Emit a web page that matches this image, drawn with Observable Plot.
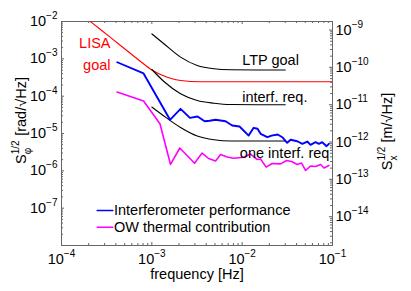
<!DOCTYPE html>
<html><head><meta charset="utf-8">
<script src="https://cdn.jsdelivr.net/npm/d3@7"></script>
<script src="https://cdn.jsdelivr.net/npm/@observablehq/plot@0.6"></script>
<style>
html,body{margin:0;padding:0;background:#fff;}
</style></head><body><div id="chart"></div>
<script>
// ---- data ----
const lisaF = [2.09e-4, 2.7e-4, 4.5e-4, 7.5e-4, 1.0e-3, 1.48e-3, 2.08e-3, 3.46e-3, 6e-3, 1e-2, 3e-2, 1e-1];
const lisaS = [1.0e-2, 6.1e-3, 2.28e-3, 8.5e-4, 5.02e-4, 3.22e-4, 2.63e-4, 2.43e-4, 2.43e-4, 2.43e-4, 2.43e-4, 2.43e-4];
const ltpF = [1.0e-3, 1.36e-3, 2.08e-3, 3.18e-3, 4.87e-3, 7.45e-3, 1.5e-2, 3.0e-2];
const ltpS = [4.68e-3, 2.53e-3, 1.11e-3, 6.63e-4, 5.41e-4, 5.08e-4, 5.02e-4, 5.02e-4];
const irF = [1.0e-3, 1.36e-3, 2.08e-3, 3.18e-3, 4.87e-3, 7.45e-3, 1.5e-2, 3.0e-2];
const irS = [5.18e-4, 2.47e-4, 1.16e-4, 7.65e-5, 6.48e-5, 5.98e-5, 5.9e-5, 5.9e-5];
const oneF = [1.0e-3, 1.36e-3, 2.08e-3, 3.18e-3, 4.87e-3, 7.45e-3, 1.5e-2, 3.0e-2];
const oneS = [5.13e-5, 2.94e-5, 1.45e-5, 8.57e-6, 6.78e-6, 6.3e-6, 6.3e-6, 6.3e-6];
const ifoF = [4.14e-4, 8.1e-4, 1.59e-3, 2.08e-3, 2.64e-3, 3.21e-3, 3.84e-3, 4.36e-3, 5.07e-3, 6.55e-3, 7.76e-3, 9.35e-3, 1.18e-2, 1.34e-2, 1.48e-2, 1.60e-2, 1.90e-2, 2.12e-2, 2.47e-2, 2.78e-2, 3.15e-2, 3.44e-2, 4.07e-2, 4.64e-2, 5.26e-2, 5.71e-2, 6.5e-2, 7.06e-2, 7.7e-2, 8.6e-2, 9.12e-2];
const ifoS = [8.1e-4, 4.05e-4, 2.33e-5, 4.58e-5, 2.63e-5, 2.85e-5, 2.13e-5, 2.2e-5, 2.33e-5, 2.13e-5, 1.64e-5, 1.54e-5, 8.8e-6, 1.42e-5, 1.34e-5, 9.8e-6, 7.96e-6, 8.8e-6, 9.4e-6, 7.96e-6, 5.63e-6, 6.78e-6, 6.21e-6, 5.3e-6, 6.1e-6, 4.98e-6, 5.85e-6, 5.3e-6, 5.85e-6, 4.57e-6, 5.3e-6];
const owF = [4.12e-4, 8.1e-4, 1.23e-3, 1.61e-3, 2.04e-3, 2.97e-3, 3.6e-3, 4.25e-3, 5.07e-3, 5.77e-3, 6.84e-3, 8.04e-3, 1.04e-2, 1.24e-2, 1.47e-2, 1.60e-2, 1.84e-2, 2.15e-2, 2.66e-2, 3.1e-2, 3.52e-2, 4.07e-2, 4.55e-2, 5.04e-2, 5.71e-2, 6.5e-2, 7.38e-2, 8.07e-2, 9.12e-2];
const owS = [1.29e-4, 7.42e-5, 1.82e-5, 1.48e-6, 4.09e-6, 1.60e-6, 3.0e-6, 2.14e-6, 1.83e-6, 2.74e-6, 2.35e-6, 2.18e-6, 2.32e-6, 2.82e-6, 2.01e-6, 2.07e-6, 1.26e-6, 1.57e-6, 1.54e-6, 1.89e-6, 1.78e-6, 1.48e-6, 1.62e-6, 1.02e-6, 1.35e-6, 1.31e-6, 1.48e-6, 1.19e-6, 1.39e-6];

const curveLabels = ["LTP goal", "interf. req.", "one interf. req"];
const curveLabelF = [1.0e-2, 1.0e-2, 9.43e-3];
const curveLabelS = [9.35e-4, 9.37e-5, 2.86e-6];
const lisaLabels = ["LISA", "goal"];
const lisaLabelF = [3.49e-4, 3.49e-4];
const lisaLabelS = [2.58e-3, 6.62e-4];
const legendLabels = ["Interferometer performance", "OW thermal contribution"];

const xTicks = [1e-4, 1e-3, 1e-2, 1e-1];
const yTicksLeft = [1e-7, 1e-6, 1e-5, 1e-4, 1e-3, 1e-2];
const yTicksRight = [1e-14, 1e-13, 1e-12, 1e-11, 1e-10, 1e-9]; // S_x in m/sqrt(Hz)
const K = 1.064e-6 / (2 * Math.PI); // m per rad (S_x = K * S_phi)

// ---- helpers ----
const rows = (F, S) => F.map((f, i) => ({f, s: S[i]}));
const minors = (lo, hi) => { const out = []; for (let e = lo; e < hi; e++) for (let m = 2; m <= 9; m++) out.push(m * Math.pow(10, e)); return out; };
const xMinor = minors(-4, -1);
const yMinorLeft = minors(-8, -2);
const yMinorRight = minors(-15, -9).map(v => v / K).filter(v => v >= 1e-8 && v <= 1e-2);
const yRightPos = yTicksRight.map(v => v / K);
const fmt = d => "10^" + Math.round(Math.log10(d));
const W = 411, H = 291, mL = 61, mR = 79, mT = 21, mB = 46;
const pw = W - mL - mR, ph = H - mT - mB;
const axisColor = "#666";
const lineShape = {draw(ctx, l) { ctx.moveTo(0, 0); ctx.lineTo(0, -l); }};
const mid = {textAnchor: "middle", lineAnchor: "middle"};

const plot = Plot.plot({
  width: W, height: H,
  marginLeft: mL, marginRight: mR, marginTop: mT, marginBottom: mB,
  style: {fontFamily: "'Liberation Sans', Arial, Helvetica, sans-serif", fontSize: "14.5px", background: "#fff", color: "#000"},
  x: {type: "log", domain: [1e-4, 1e-1], label: null},
  y: {type: "log", domain: [1e-8, 1e-2], label: null},
  marks: [
    // inward ticks
    Plot.tickX(xTicks, {x: d => d, insetTop: ph - 3, stroke: axisColor}),
    Plot.tickX(xMinor, {x: d => d, insetTop: ph - 2, stroke: axisColor}),
    Plot.tickX(xTicks, {x: d => d, insetBottom: ph - 3, stroke: axisColor}),
    Plot.tickX(xMinor, {x: d => d, insetBottom: ph - 2, stroke: axisColor}),
    Plot.tickY(yTicksLeft, {y: d => d, insetRight: pw - 3, stroke: axisColor}),
    Plot.tickY(yMinorLeft, {y: d => d, insetRight: pw - 2, stroke: axisColor}),
    Plot.tickY(yRightPos, {y: d => d, insetLeft: pw - 3, stroke: axisColor}),
    Plot.tickY(yMinorRight, {y: d => d, insetLeft: pw - 2, stroke: axisColor}),
    Plot.frame({stroke: axisColor}),
    // axes labels
    Plot.axisX({ticks: xTicks, tickFormat: fmt, tickSize: 0, tickPadding: 8, label: null, fill: "#000"}),
    Plot.axisY({ticks: yTicksLeft, tickFormat: fmt, tickSize: 0, tickPadding: 4, label: null, fill: "#000"}),
    Plot.text(yRightPos, {y: d => d, frameAnchor: "right", text: d => fmt(d * K), textAnchor: "start", lineAnchor: "middle", dx: 3, fill: "#000"}),
    // curves
    Plot.line(rows(lisaF, lisaS), {x: "f", y: "s", stroke: "#ff0000", strokeWidth: 1.1, curve: "monotone-x", clip: true}),
    Plot.line(rows(ltpF, ltpS), {x: "f", y: "s", stroke: "#000", strokeWidth: 1.1, curve: "monotone-x"}),
    Plot.line(rows(irF, irS), {x: "f", y: "s", stroke: "#000", strokeWidth: 1.1, curve: "monotone-x"}),
    Plot.line(rows(oneF, oneS), {x: "f", y: "s", stroke: "#000", strokeWidth: 1.1, curve: "monotone-x"}),
    Plot.line(rows(owF, owS), {x: "f", y: "s", stroke: "#ff00ff", strokeWidth: 1.6}),
    Plot.line(rows(ifoF, ifoS), {x: "f", y: "s", stroke: "#0000ff", strokeWidth: 1.9}),
    // annotations
    Plot.text(curveLabels, {x: (d, i) => curveLabelF[i], y: (d, i) => curveLabelS[i], text: d => d, textAnchor: "start", lineAnchor: "middle", fill: "#000"}),
    Plot.text(lisaLabels, {x: (d, i) => lisaLabelF[i], y: (d, i) => lisaLabelS[i], text: d => d, textAnchor: "end", lineAnchor: "middle", fill: "#ff0000"}),
    // legend (no box)
    Plot.vector([0], {frameAnchor: "bottom-left", dx: 35.7, dy: -35, length: 15.6, rotate: 90, anchor: "start", shape: lineShape, stroke: "#0000ff", strokeWidth: 1.5}),
    Plot.vector([0], {frameAnchor: "bottom-left", dx: 35.7, dy: -18.3, length: 15.6, rotate: 90, anchor: "start", shape: lineShape, stroke: "#ff00ff", strokeWidth: 1.5}),
    Plot.text([legendLabels[0]], {frameAnchor: "bottom-left", dx: 52.5, dy: -35, text: d => d, textAnchor: "start", lineAnchor: "middle", fill: "#000"}),
    Plot.text([legendLabels[1]], {frameAnchor: "bottom-left", dx: 52.5, dy: -18.3, text: d => d, textAnchor: "start", lineAnchor: "middle", fill: "#000"}),
    // axis titles
    Plot.text(["frequency [Hz]"], {frameAnchor: "bottom", dy: 28.5, text: d => d, ...mid, fill: "#000"}),
    Plot.text(["S_phi_label"], {frameAnchor: "left", dx: -40.6, dy: -13, rotate: -90, text: d => d, ...mid, fill: "#000"}),
    Plot.text(["S_x_label"], {frameAnchor: "right", dx: 54.4, dy: -2, rotate: -90, text: d => d, ...mid, fill: "#000"})
  ]
});

// ---- rich text: superscripts and subscripts ----
const NS = "http://www.w3.org/2000/svg";
function rich(t, parts) {
  t.textContent = "";
  for (const p of parts) {
    const s = document.createElementNS(NS, "tspan");
    s.textContent = p.t;
    if (p.size) s.setAttribute("font-size", p.size);
    if (p.dx) s.setAttribute("dx", p.dx);
    if (p.dy) s.setAttribute("dy", p.dy);
    t.appendChild(s);
  }
}
plot.querySelectorAll("text").forEach(t => {
  const c = t.textContent;
  const m = c.match(/^10\^(-?\d+)$/);
  if (m) {
    rich(t, [{t: "10"}, {t: m[1].replace("-", "\u2212"), size: 10, dy: -7}]);
  } else if (c === "S_phi_label") {
    rich(t, [{t: "S"}, {t: "1/2", size: 10, dy: -7}, {t: "\u03c6", size: 10, dx: -13.9, dy: 12}, {t: " [rad/\u221aHz]", dx: 7.9, dy: -5}]);
  } else if (c === "S_x_label") {
    rich(t, [{t: "S"}, {t: "1/2", size: 10, dy: -7}, {t: "x", size: 10, dx: -13.9, dy: 12}, {t: " [m/\u221aHz]", dx: 8.9, dy: -5}]);
  }
});
document.getElementById("chart").append(plot);
</script>
</body></html>
